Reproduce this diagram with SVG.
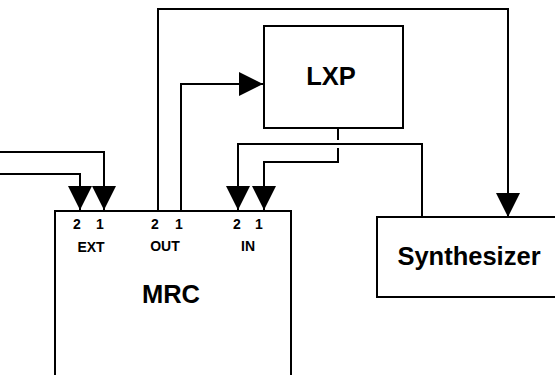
<svg xmlns="http://www.w3.org/2000/svg" width="555" height="375" viewBox="0 0 555 375">
<style>
.box{fill:#fff;stroke:#000;stroke-width:2}
.ln{fill:none;stroke:#000;stroke-width:2}
.big{font-family:"Liberation Sans",Arial,sans-serif;font-weight:bold;font-size:25.5px;text-anchor:middle}
.sm{font-family:"Liberation Sans",Arial,sans-serif;font-weight:bold;font-size:14px;text-anchor:middle}
</style>
<defs>
<marker id="ah" markerWidth="24" markerHeight="24" viewBox="0 0 24 24" refX="24" refY="12" orient="auto" markerUnits="userSpaceOnUse">
<path d="M0,0 L24,12 L0,24 Z" fill="#000"/>
</marker>
</defs>
<rect width="555" height="375" fill="#fff"/>
<g id="connectors">
<path class="ln" d="M0,152 H104 V210" marker-end="url(#ah)"/>
<path class="ln" d="M0,174 H80 V210" marker-end="url(#ah)"/>
<path class="ln" d="M158,211 V9 H508 V217" marker-end="url(#ah)"/>
<path class="ln" d="M181,211 V84 H263" marker-end="url(#ah)"/>
<path class="ln" d="M338,128 V140 M338,148 V162 H264 V210" marker-end="url(#ah)"/>
<path class="ln" d="M422,217 V144 H238 V210" marker-end="url(#ah)"/>
</g>
<g id="LXP">
<rect class="box" x="264" y="26" width="139" height="102"/>
<text class="big" x="331" y="85">LXP</text>
</g>
<g id="MRC">
<rect class="box" x="55" y="211" width="236" height="180"/>
<text class="sm" x="77" y="229">2</text>
<text class="sm" x="100" y="229">1</text>
<text class="sm" x="155" y="229">2</text>
<text class="sm" x="179" y="229">1</text>
<text class="sm" x="237" y="229">2</text>
<text class="sm" x="259" y="229">1</text>
<text class="sm" x="91" y="252">EXT</text>
<text class="sm" x="165" y="251">OUT</text>
<text class="sm" x="248" y="251">IN</text>
<text class="big" x="171" y="303">MRC</text>
</g>
<g id="Synthesizer">
<rect class="box" x="377" y="217" width="190" height="80"/>
<text class="big" x="469" y="265">Synthesizer</text>
</g>
</svg>
